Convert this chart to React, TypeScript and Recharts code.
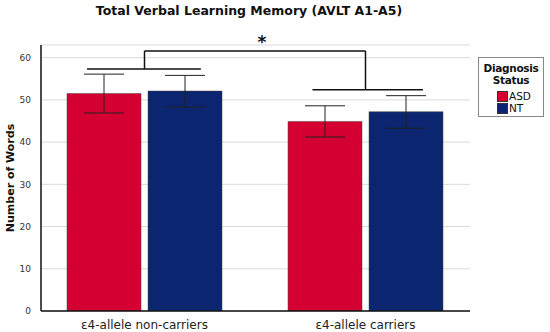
import React from "react";
import {
  BarChart,
  Bar,
  XAxis,
  YAxis,
  CartesianGrid,
  ErrorBar,
  ReferenceLine,
  Legend,
} from "recharts";

const groups = ["ε4-allele non-carriers", "ε4-allele carriers"];
const groupPos = [0.5, 1.5];
const asdMeans = [51.5, 44.9];
const ntMeans = [52.1, 47.2];
const asdLow = [46.9, 41.2];
const asdHigh = [56.1, 48.6];
const ntLow = [48.3, 43.3];
const ntHigh = [55.8, 51.0];
const yTicks = [0, 10, 20, 30, 40, 50, 60];

// significance brackets, x in group units (0..2), y in words
const groupBracketX = [
  [0.24, 0.755],
  [1.26, 1.76],
];
const groupBracketY = [57.3, 52.4];
const topBracketX = [0.5, 1.5];
const topBracketY = 61.6;

const ASD_COLOR = "#d50032";
const NT_COLOR = "#0b2570";
const FONT = "'DejaVu Sans', sans-serif";

const data = groups.map((g, i) => ({
  group: g,
  pos: groupPos[i],
  asd: asdMeans[i],
  nt: ntMeans[i],
  asdErr: [asdMeans[i] - asdLow[i], asdHigh[i] - asdMeans[i]],
  ntErr: [ntMeans[i] - ntLow[i], ntHigh[i] - ntMeans[i]],
}));

function LegendBox() {
  const row = (color: string, label: string) => (
    <div style={{ display: "flex", alignItems: "center", height: 12 }}>
      <span style={{ width: 9, height: 9, background: color, border: "0.5px solid #333", marginRight: 1 }} />
      <span style={{ fontSize: 10.5 }}>{label}</span>
    </div>
  );
  return (
    <div
      style={{
        width: 66,
        height: 60,
        border: "1px solid #888",
        boxSizing: "border-box",
        fontFamily: FONT,
        color: "#111",
        paddingTop: 4,
      }}
    >
      <div style={{ fontWeight: "bold", fontSize: 10.5, letterSpacing: -0.3, textAlign: "center", lineHeight: "12px" }}>
        Diagnosis
        <br />
        Status
      </div>
      <div style={{ marginTop: 4, marginLeft: 18 }}>
        {row(ASD_COLOR, "ASD")}
        {row(NT_COLOR, "NT")}
      </div>
    </div>
  );
}

export default function App() {
  return (
    <div style={{ position: "absolute", left: 0, top: 0, width: 550, height: 332, background: "#fff" }}>
      <div
        style={{
          position: "absolute",
          left: 0,
          width: 498,
          top: 3,
          textAlign: "center",
          fontFamily: FONT,
          fontWeight: "bold",
          fontSize: 12.5,
          color: "#111",
        }}
      >
        Total Verbal Learning Memory (AVLT A1-A5)
      </div>
      <BarChart
        width={550}
        height={332}
        data={data}
        margin={{ top: 45, right: 80, bottom: 0, left: 0 }}
        barGap={7}
        barCategoryGap={33}
        style={{ fontFamily: FONT }}
      >
        <CartesianGrid horizontal vertical={false} stroke="#d9d9d9" />
        <XAxis
          xAxisId="cat"
          dataKey="group"
          height={21}
          padding={{ left: -7, right: -6 }}
          tickLine={false}
          axisLine={{ stroke: "#111", strokeWidth: 1.5 }}
          tick={{ fontSize: 12, fill: "#222" }}
          tickMargin={3}
        />
        <XAxis
          xAxisId="num"
          dataKey="pos"
          type="number"
          domain={[0, 2]}
          padding={{ left: -7, right: -6 }}
          allowDataOverflow
          hide
        />
        <YAxis
          width={41}
          domain={[0, 63]}
          ticks={yTicks}
          interval={0}
          allowDataOverflow
          tickLine={false}
          axisLine={{ stroke: "#111", strokeWidth: 1.5 }}
          tick={{ fontSize: 9, fill: "#333" }}
          tickMargin={4}
          label={{
            value: "Number of Words",
            angle: -90,
            position: "center",
            dx: -10,
            style: { fontWeight: "bold", fontSize: 11, fill: "#111" },
          }}
        />
        <Legend
          layout="vertical"
          align="center"
          verticalAlign="middle"
          content={() => <LegendBox />}
          wrapperStyle={{ left: 478, top: 57, width: 66 }}
        />
        <Bar xAxisId="cat" dataKey="asd" name="ASD" fill={ASD_COLOR} stroke="#444" strokeWidth={0.5} barSize={74} isAnimationActive={false}>
          <ErrorBar dataKey="asdErr" width={20} stroke="#222" strokeWidth={1} direction="y" isAnimationActive={false} />
        </Bar>
        <Bar xAxisId="cat" dataKey="nt" name="NT" fill={NT_COLOR} stroke="#444" strokeWidth={0.5} barSize={74} isAnimationActive={false}>
          <ErrorBar dataKey="ntErr" width={20} stroke="#222" strokeWidth={1} direction="y" isAnimationActive={false} />
        </Bar>
        {groupBracketX.map((xs, i) => (
          <ReferenceLine
            key={"g" + i}
            xAxisId="num"
            ifOverflow="visible"
            segment={[
              { x: xs[0], y: groupBracketY[i] },
              { x: xs[1], y: groupBracketY[i] },
            ]}
            stroke="#111"
            strokeWidth={1.5}
          />
        ))}
        {topBracketX.map((x, i) => (
          <ReferenceLine
            key={"l" + i}
            xAxisId="num"
            ifOverflow="visible"
            segment={[
              { x, y: groupBracketY[i] },
              { x, y: topBracketY },
            ]}
            stroke="#111"
            strokeWidth={1.5}
          />
        ))}
        <ReferenceLine
          xAxisId="num"
          ifOverflow="visible"
          segment={[
            { x: topBracketX[0], y: topBracketY },
            { x: topBracketX[1], y: topBracketY },
          ]}
          stroke="#111"
          strokeWidth={1.5}
          label={{ value: "*", position: "top", dx: 7, dy: 2, style: { fontSize: 17, fontWeight: "bold", fill: "#111" } }}
        />
      </BarChart>
    </div>
  );
}
